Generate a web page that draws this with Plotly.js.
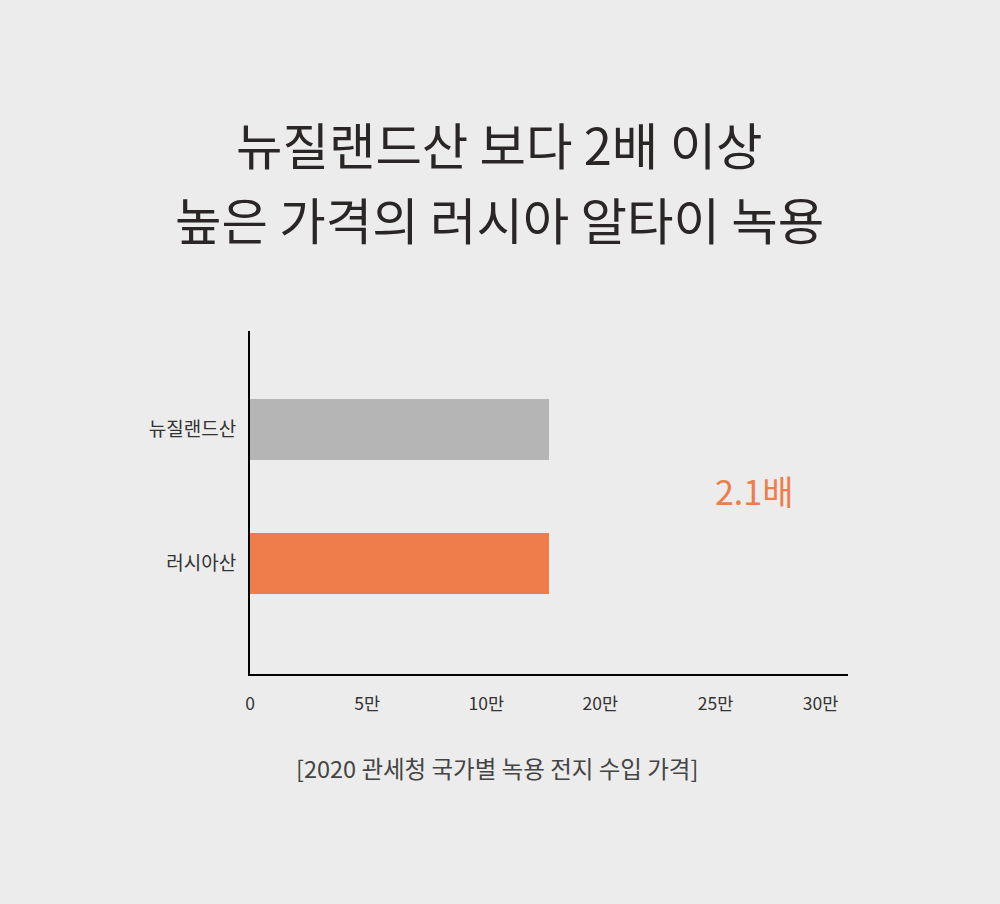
<!DOCTYPE html>
<html><head><meta charset="utf-8">
<script src="https://cdn.plot.ly/plotly-3.0.1.min.js"></script>
<style>html,body{margin:0;padding:0;background:#ececec;}</style>
</head><body>
<div id="chart" style="width:1000px;height:904px;"></div>
<script>
var categories = ['러시아산', '뉴질랜드산'];
var values = [13.1, 13.1];
var barColors = ['#ee7d4b', '#b5b5b5'];
var tickVals = [0, 5.13, 10.35, 15.35, 20.4, 25];
var tickText = ['0', '5만', '10만', '20만', '25만', '30만'];
var titleLines = ['뉴질랜드산 보다 2배 이상', '높은 가격의 러시아 알타이 녹용'];
var sourceText = '[2020 관세청 국가별 녹용 전지 수입 가격]';
var noteText = '2.1배';

var font = 'Noto Sans CJK KR, Noto Sans, sans-serif';
var trace = {
  type: 'bar', orientation: 'h',
  y: categories, x: values,
  marker: {color: barColors},
  width: 0.455,
  hoverinfo: 'skip'
};
var layout = {
  width: 1000, height: 904,
  paper_bgcolor: '#ececec', plot_bgcolor: '#ececec',
  margin: {l: 250, r: 152, t: 331, b: 230},
  showlegend: false,
  font: {family: font, color: '#333'},
  xaxis: {
    range: [0, 26.2], showgrid: false, zeroline: false,
    showline: true, linecolor: '#000', linewidth: 2,
    tickvals: tickVals, ticktext: tickText, ticks: '',
    ticklabelstandoff: 13,
    tickfont: {family: font, size: 17.5, color: '#333'}
  },
  yaxis: {
    type: 'category', range: [-0.825, 1.735],
    showgrid: false, zeroline: false,
    showline: true, linecolor: '#000', linewidth: 2,
    ticks: '', ticklabelstandoff: 8,
    tickfont: {family: font, size: 19, color: '#333'}
  },
  annotations: [
    {text: titleLines[0], xref: 'paper', yref: 'paper', x: 0.418, y: 1.548,
     showarrow: false, xanchor: 'center', yanchor: 'middle',
     font: {family: font, size: 50.5, color: '#2b2626'}},
    {text: titleLines[1], xref: 'paper', yref: 'paper', x: 0.418, y: 1.329,
     showarrow: false, xanchor: 'center', yanchor: 'middle',
     font: {family: font, size: 50.5, color: '#2b2626'}},
    {text: sourceText, xref: 'paper', yref: 'paper', x: 0.413, y: -0.274,
     showarrow: false, xanchor: 'center', yanchor: 'middle',
     font: {family: font, size: 23.5, color: '#444'}},
    {text: noteText, xref: 'paper', yref: 'paper', x: 0.843, y: 0.536,
     showarrow: false, xanchor: 'center', yanchor: 'middle',
     font: {family: font, size: 34, color: '#ee7d4b'}}
  ]
};
Plotly.newPlot('chart', [trace], layout, {displayModeBar: false, staticPlot: true});
</script>
</body></html>
